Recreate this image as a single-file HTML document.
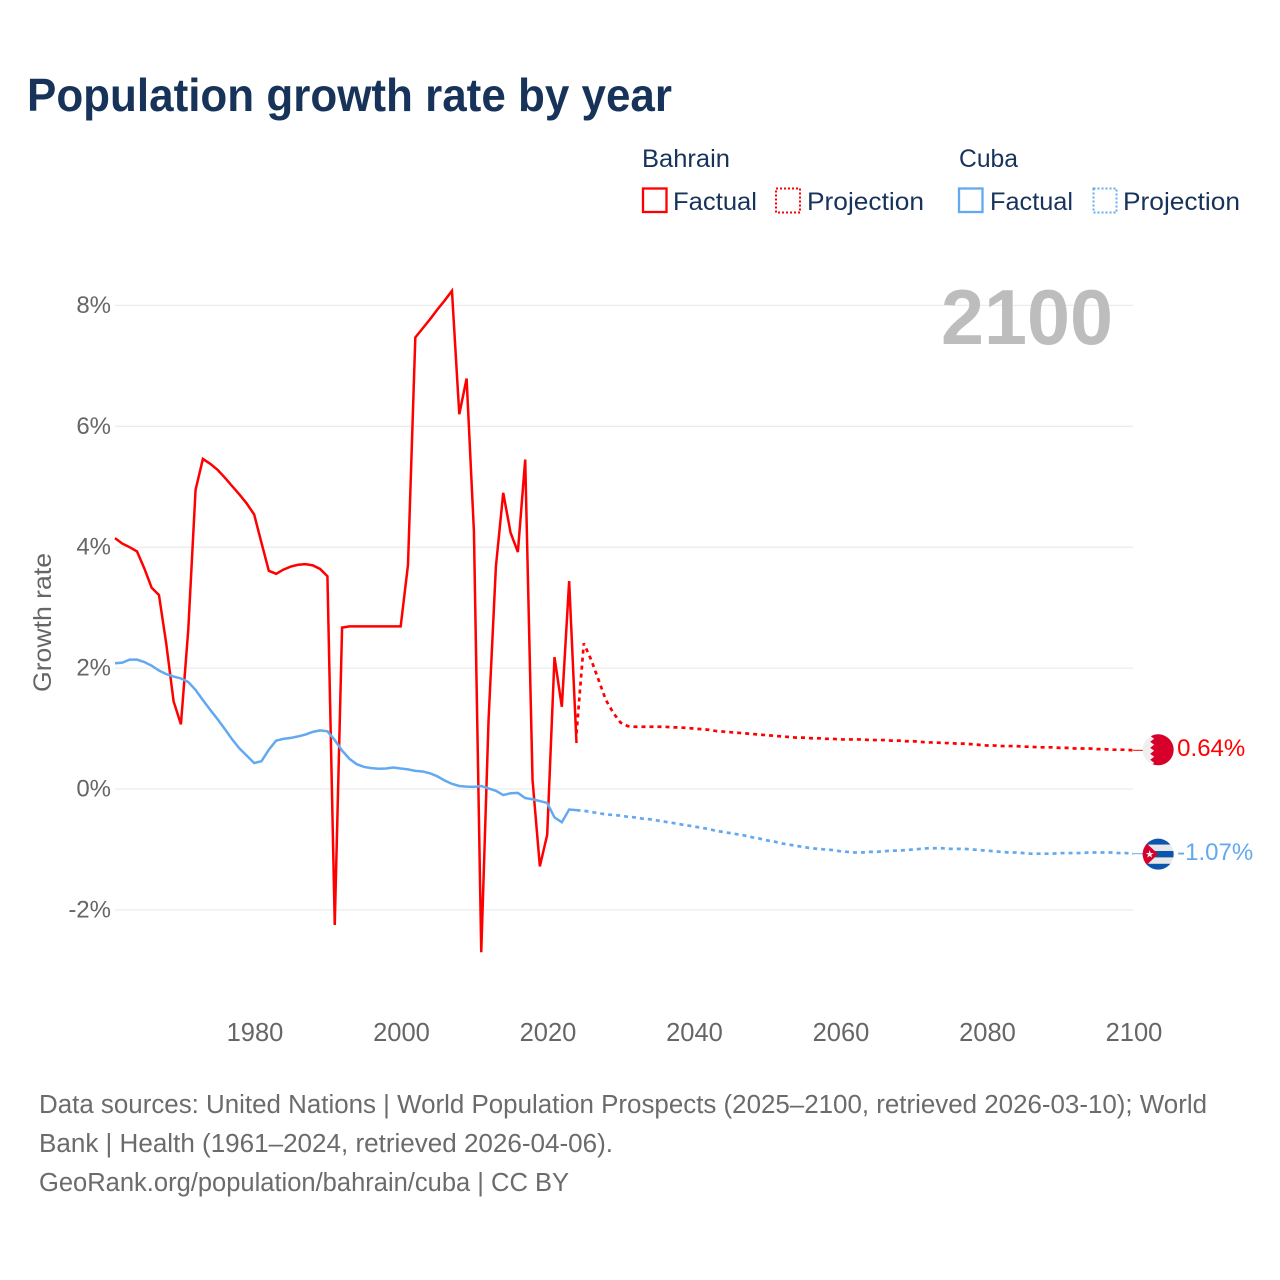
<!DOCTYPE html>
<html lang="en">
<head>
<meta charset="utf-8">
<title>Population growth rate by year</title>
<style>
html,body{margin:0;padding:0;background:#fff;width:1280px;height:1280px;overflow:hidden}
svg{display:block}
text{font-family:"Liberation Sans",sans-serif}
</style>
</head>
<body>
<svg id="chart" xmlns="http://www.w3.org/2000/svg" width="1280" height="1280" viewBox="0 0 1280 1280">
  <rect x="0" y="0" width="1280" height="1280" fill="#fff"/>
  <text x="27" y="111" font-size="46" font-weight="700" fill="#17335a" textLength="645" lengthAdjust="spacingAndGlyphs">Population growth rate by year</text>

  <g font-size="25" fill="#17335a">
    <text x="642" y="167" textLength="88" lengthAdjust="spacingAndGlyphs">Bahrain</text>
    <rect x="643" y="188.500" width="23.500" height="23.500" fill="none" stroke="#ff0000" stroke-width="2.300"/>
    <text x="673" y="210" textLength="84" lengthAdjust="spacingAndGlyphs">Factual</text>
    <rect x="776" y="188.500" width="24" height="24" fill="none" stroke="#ff0000" stroke-width="2" stroke-dasharray="2 2"/>
    <text x="807" y="210" textLength="117" lengthAdjust="spacingAndGlyphs">Projection</text>
    <text x="959" y="167" textLength="59" lengthAdjust="spacingAndGlyphs">Cuba</text>
    <rect x="959" y="188.500" width="23.500" height="23.500" fill="none" stroke="#63a9f0" stroke-width="2.300"/>
    <text x="990" y="210" textLength="83" lengthAdjust="spacingAndGlyphs">Factual</text>
    <rect x="1093.500" y="188.500" width="23" height="24" fill="none" stroke="#63a9f0" stroke-width="2" stroke-dasharray="2 2"/>
    <text x="1123" y="210" textLength="117" lengthAdjust="spacingAndGlyphs">Projection</text>
  </g>

  <g id="grid"></g>
  <g id="yticks"></g>
  <g id="xticks"></g>

  <text transform="translate(51,692) rotate(-90)" font-size="25" fill="#666" textLength="139" lengthAdjust="spacingAndGlyphs">Growth rate</text>
  <text x="941" y="344" font-size="78" font-weight="700" fill="#bdbdbd" textLength="172" lengthAdjust="spacingAndGlyphs">2100</text>

  <path id="bahrain-factual" fill="none" stroke="#ff0000" stroke-width="2.500" stroke-linejoin="miter"/>
  <path id="bahrain-projection" fill="none" stroke="#ff0000" stroke-width="2.700" stroke-dasharray="4 4"/>
  <path id="cuba-factual" fill="none" stroke="#63a9f0" stroke-width="2.500"/>
  <path id="cuba-projection" fill="none" stroke="#63a9f0" stroke-width="2.700" stroke-dasharray="4 4"/>
  <path id="bahrain-connector" fill="none" stroke="#ff0000" stroke-width="1"/>
  <path id="cuba-connector" fill="none" stroke="#63a9f0" stroke-width="1"/>

  <defs>
    <clipPath id="flagClip"><circle cx="0" cy="0" r="15.500"/></clipPath>
  </defs>
  <g id="bahrain-flag">
    <g clip-path="url(#flagClip)">
      <rect x="-16" y="-16" width="32" height="32" fill="#efefef"/>
      <polygon fill="#d7002a" points="-7,-16 16,-16 16,16 -7,16 -4,13 -8,10 -4,7 -8,4 -4,1 -8,-2 -4,-5 -8,-8 -4,-11 -7,-13"/>
    </g>
  </g>
  <g id="cuba-flag">
    <g clip-path="url(#flagClip)">
      <rect x="-16" y="-16" width="32" height="32" fill="#e8e8e8"/>
      <rect x="-16" y="-16" width="32" height="6.400" fill="#0a55ae"/>
      <rect x="-16" y="-3.200" width="32" height="6.400" fill="#0a55ae"/>
      <rect x="-16" y="9.600" width="32" height="6.400" fill="#0a55ae"/>
      <polygon points="-16,-15 -16,15 0,0" fill="#d5002b"/>
      <polygon fill="#eee" points="-8.500,-4 -7.500,-1.200 -4.500,-1.200 -6.900,0.600 -6,3.500 -8.500,1.800 -11,3.500 -10.100,0.600 -12.500,-1.200 -9.500,-1.200"/>
    </g>
  </g>

  <text id="bahrain-value" font-size="24" fill="#ff0000"></text>
  <text id="cuba-value" font-size="24" fill="#63a9f0"></text>

  <g font-size="25.500" fill="#6b6b6b">
    <text x="39" y="1113" textLength="1168" lengthAdjust="spacingAndGlyphs">Data sources: United Nations | World Population Prospects (2025–2100, retrieved 2026-03-10); World</text>
    <text x="39" y="1152" textLength="574" lengthAdjust="spacingAndGlyphs">Bank | Health (1961–2024, retrieved 2026-04-06).</text>
    <text x="39" y="1191" textLength="530" lengthAdjust="spacingAndGlyphs">GeoRank.org/population/bahrain/cuba | CC BY</text>
  </g>
</svg>
<script>
const firstFactualYear = 1961;
const firstProjectionYear = 2024;
const xTickYears = [1980, 2000, 2020, 2040, 2060, 2080, 2100];
const yTickValues = [-2, 0, 2, 4, 6, 8];
const yTickLabels = ['-2%', '0%', '2%', '4%', '6%', '8%'];

const bahrainFactual = [
  4.15,4.06,4.00,3.93,3.65,3.33,3.21,2.40,1.45,1.07,
  2.63,4.95,5.46,5.38,5.28,5.15,5.01,4.87,4.72,4.54,
  4.07,3.61,3.56,3.63,3.68,3.71,3.72,3.70,3.64,3.52,
  -2.25,2.67,2.69,2.69,2.69,2.69,2.69,2.69,2.69,2.69,
  3.71,7.47,7.62,7.77,7.93,8.08,8.24,6.20,6.79,4.26,
  -2.70,1.15,3.68,4.90,4.24,3.92,5.45,0.15,-1.28,-0.76,
  2.18,1.36,3.44,0.76
];
const cubaFactual = [
  2.08,2.09,2.14,2.14,2.10,2.04,1.96,1.90,1.86,1.83,
  1.77,1.64,1.47,1.31,1.155,0.99,0.82,0.67,0.55,0.43,
  0.46,0.65,0.80,0.83,0.845,0.87,0.90,0.945,0.97,0.955,
  0.81,0.635,0.50,0.41,0.365,0.345,0.335,0.34,0.355,0.34,
  0.325,0.30,0.29,0.26,0.21,0.14,0.085,0.05,0.04,0.035,
  0.05,0.01,-0.03,-0.10,-0.07,-0.065,-0.15,-0.17,-0.20,-0.23,
  -0.47,-0.55,-0.34,-0.35
];
const bahrainProjection = [
  0.92,2.41,2.14,1.81,1.475,1.265,
  1.10,1.04,1.03,1.03,1.03,1.03,1.03,1.02,1.02,1.01,
  1.00,0.99,0.98,0.96,0.95,0.94,0.93,0.92,0.91,0.90,
  0.89,0.88,0.87,0.86,0.85,0.85,0.84,0.84,0.83,0.83,
  0.82,0.82,0.82,0.82,0.81,0.81,0.81,0.80,0.80,0.79,
  0.79,0.78,0.77,0.77,0.76,0.76,0.75,0.75,0.74,0.73,
  0.72,0.72,0.71,0.71,0.71,0.70,0.70,0.69,0.69,0.69,
  0.68,0.68,0.67,0.67,0.67,0.66,0.66,0.65,0.65,0.65,
  0.64
];
const cubaProjection = [
  -0.35,-0.36,-0.38,-0.40,-0.42,-0.43,
  -0.44,-0.46,-0.47,-0.49,-0.50,-0.52,-0.54,-0.56,-0.58,-0.60,
  -0.62,-0.64,-0.66,-0.69,-0.71,-0.73,-0.75,-0.77,-0.80,-0.82,
  -0.85,-0.87,-0.90,-0.92,-0.94,-0.96,-0.98,-0.99,-1.00,-1.01,
  -1.03,-1.04,-1.05,-1.05,-1.04,-1.04,-1.03,-1.02,-1.02,-1.01,
  -1.00,-0.99,-0.98,-0.98,-0.98,-0.99,-0.99,-0.99,-1.00,-1.01,
  -1.02,-1.03,-1.04,-1.05,-1.05,-1.06,-1.07,-1.07,-1.07,-1.07,
  -1.06,-1.06,-1.06,-1.06,-1.05,-1.05,-1.05,-1.05,-1.06,-1.06,
  -1.07
];

const SVGNS = 'http://www.w3.org/2000/svg';

function xScale(year) {
  return 115 + (year - 1961) * 7.325;
}
function yScale(value) {
  return 789 - value * 60.45;
}
function linePath(startYear, values) {
  return values.map(function (v, i) {
    return (i ? 'L' : 'M') + xScale(startYear + i).toFixed(2) + ' ' + yScale(v).toFixed(2);
  }).join(' ');
}

const gridGroup = document.getElementById('grid');
const yTickGroup = document.getElementById('yticks');
const xTickGroup = document.getElementById('xticks');

yTickValues.forEach(function (v, i) {
  const line = document.createElementNS(SVGNS, 'line');
  
  
  line.setAttribute('x1', xScale(1961));
  line.setAttribute('x2', xScale(2100));
  line.setAttribute('y1', yScale(v));
  line.setAttribute('y2', yScale(v));
  line.setAttribute('stroke', '#ececec');
  line.setAttribute('stroke-width', '1.3');
  gridGroup.appendChild(line);

  const label = document.createElementNS(SVGNS, 'text');
  
  
  label.setAttribute('x', 111);
  label.setAttribute('y', yScale(v) + 7.5);
  label.setAttribute('text-anchor', 'end');
  label.setAttribute('font-size', '24');
  label.setAttribute('fill', '#666');
  label.textContent = yTickLabels[i];
  yTickGroup.appendChild(label);
});

xTickYears.forEach(function (year) {
  const label = document.createElementNS(SVGNS, 'text');
  
  
  label.setAttribute('x', xScale(year) + 0.8);
  label.setAttribute('y', 1041);
  label.setAttribute('text-anchor', 'middle');
  label.setAttribute('font-size', '25.5');
  label.setAttribute('fill', '#666');
  label.textContent = String(year);
  xTickGroup.appendChild(label);
});

document.getElementById('bahrain-factual').setAttribute('d', linePath(firstFactualYear, bahrainFactual));
document.getElementById('cuba-factual').setAttribute('d', linePath(firstFactualYear, cubaFactual));
document.getElementById('bahrain-projection').setAttribute('d', linePath(firstProjectionYear, bahrainProjection));
document.getElementById('cuba-projection').setAttribute('d', linePath(firstProjectionYear, cubaProjection));

function placeEnd(prefix, values, flagDy, textDy) {
  const last = values[values.length - 1];
  const y = yScale(last);
  const x = xScale(2100);
  document.getElementById(prefix + '-connector').setAttribute('d', 'M' + x + ' ' + y + ' L' + (x + 10) + ' ' + y);
  document.getElementById(prefix + '-flag').setAttribute('transform', 'translate(' + (x + 25) + ',' + (y + flagDy) + ')');
  const text = document.getElementById(prefix + '-value');
  text.setAttribute('x', x + 44);
  text.setAttribute('y', y + textDy);
  text.textContent = last.toFixed(2) + '%';
}
placeEnd('bahrain', bahrainProjection, -0.5, 5.5);
placeEnd('cuba', cubaProjection, 0.5, 6.5);
</script>
</body>
</html>
